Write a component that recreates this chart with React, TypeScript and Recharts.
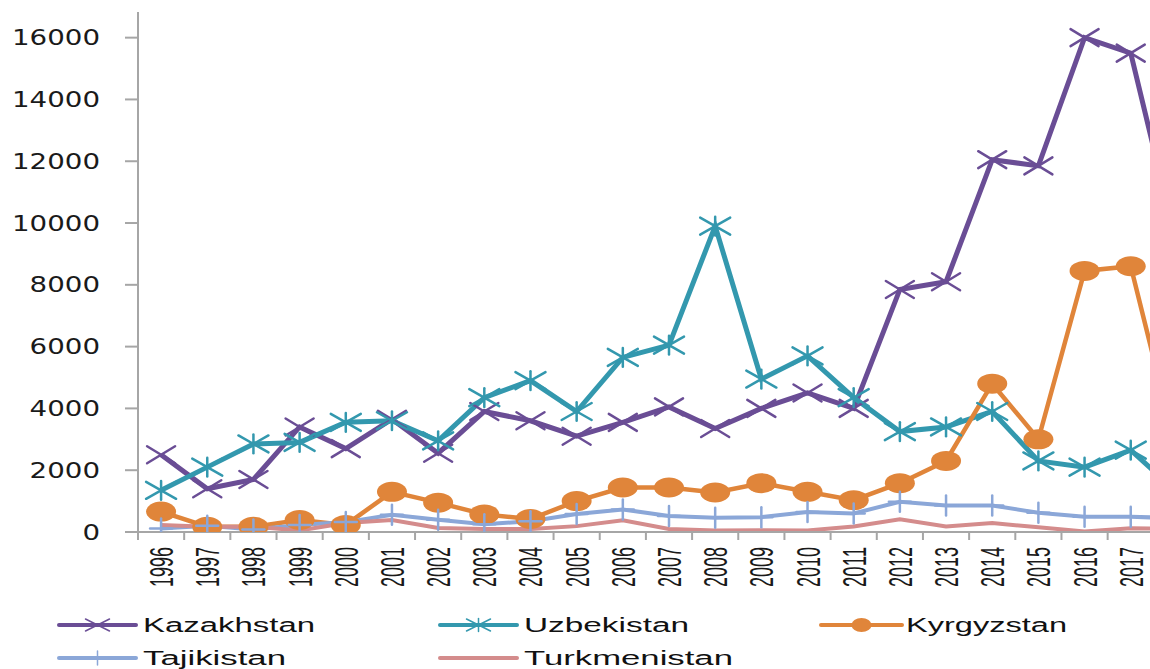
import React from 'react';
import { LineChart, Line, XAxis, YAxis, Legend } from 'recharts';

const years = [
  '1996', '1997', '1998', '1999', '2000', '2001', '2002', '2003', '2004', '2005', '2006', '2007',
  '2008', '2009', '2010', '2011', '2012', '2013', '2014', '2015', '2016', '2017', '2018',
];
const kazakhstan = [2500, 1400, 1700, 3400, 2700, 3650, 2550, 3900, 3600, 3100, 3550, 4050, 3350, 4000, 4500, 4000, 7850, 8100, 12050, 11850, 16000, 15500, 9300];
const uzbekistan = [1350, 2100, 2850, 2900, 3550, 3600, 2950, 4350, 4900, 3900, 5650, 6050, 9900, 4950, 5700, 4350, 3250, 3400, 3900, 2300, 2100, 2650, 1300];
const kyrgyzstan = [660, 170, 170, 390, 230, 1300, 950, 570, 420, 1000, 1440, 1440, 1280, 1580, 1300, 1030, 1580, 2300, 4800, 3000, 8450, 8600, 2600];
const tajikistan = [110, 200, 80, 230, 320, 560, 400, 250, 350, 580, 730, 520, 460, 480, 650, 600, 980, 860, 860, 620, 490, 490, 450];
const turkmenistan = [230, 170, 170, 50, 290, 390, 130, 100, 100, 190, 380, 100, 50, 60, 50, 180, 410, 180, 290, 150, 20, 120, 100];
const yTicks = [0, 2000, 4000, 6000, 8000, 10000, 12000, 14000, 16000];

const data = years.map((year, i) => ({
  year,
  Kazakhstan: kazakhstan[i],
  Uzbekistan: uzbekistan[i],
  Kyrgyzstan: kyrgyzstan[i],
  Tajikistan: tajikistan[i],
  Turkmenistan: turkmenistan[i],
}));

const W = 1210;
const H = 669;
const Y_AXIS_W = 138;
const RIGHT = 10;
const BAND = (W - Y_AXIS_W - RIGHT) / years.length;

const C = {
  kaz: '#6a4d95',
  uzb: '#3398ae',
  kyr: '#e0853a',
  taj: '#8ba7d8',
  tur: '#d48c8c',
  axis: '#a6a6a6',
};

const XMark = ({ cx, cy, rx, ry, color, w }: any) => (
  <g stroke={color} strokeWidth={w} strokeLinecap="round">
    <line x1={cx - rx} y1={cy - ry} x2={cx + rx} y2={cy + ry} />
    <line x1={cx - rx} y1={cy + ry} x2={cx + rx} y2={cy - ry} />
  </g>
);

const StarMark = ({ cx, cy, rx, ry, color, w }: any) => (
  <g stroke={color} strokeWidth={w} strokeLinecap="round">
    <line x1={cx - rx} y1={cy - ry} x2={cx + rx} y2={cy + ry} />
    <line x1={cx - rx} y1={cy + ry} x2={cx + rx} y2={cy - ry} />
    <line x1={cx} y1={cy - ry * 1.1} x2={cx} y2={cy + ry * 1.1} />
  </g>
);

const PlusMark = ({ cx, cy, rx, ry, color, w }: any) => (
  <g stroke={color} strokeWidth={w} strokeLinecap="round">
    <line x1={cx - rx} y1={cy} x2={cx + rx} y2={cy} />
    <line x1={cx} y1={cy - ry} x2={cx} y2={cy + ry} />
  </g>
);

const YTick = ({ x, y, payload }: any) => {
  const s = String(payload.value);
  return (
    <text
      x={x}
      y={y}
      dy={7.5}
      textAnchor="end"
      fontFamily="DejaVu Sans"
      fontSize={21}
      fill="#1a1a1a"
      textLength={s.length * 17.6}
      lengthAdjust="spacingAndGlyphs"
    >
      {s}
    </text>
  );
};

const XTick = ({ x, y, payload }: any) => {
  const ty = y + 15;
  return (
    <g>
      <line x1={x - BAND / 2} y1={y} x2={x - BAND / 2} y2={y + 8} stroke={C.axis} strokeWidth={2} />
      <text
        x={x}
        y={ty}
        dy={12}
        transform={`rotate(-90 ${x} ${ty})`}
        textAnchor="end"
        fontFamily="Liberation Sans Narrow, Liberation Sans"
        fontSize={33}
        fill="#1a1a1a"
        textLength={40}
        lengthAdjust="spacingAndGlyphs"
      >
        {payload.value}
      </text>
    </g>
  );
};

const legendItems = [
  { name: 'Kazakhstan', color: C.kaz, x0: 59, x1: 136, tx: 143, len: 172, row: 36, mark: 'x' },
  { name: 'Uzbekistan', color: C.uzb, x0: 440, x1: 517, tx: 524, len: 165, row: 36, mark: 'star' },
  { name: 'Kyrgyzstan', color: C.kyr, x0: 821, x1: 902, tx: 906, len: 161, row: 36, mark: 'dot' },
  { name: 'Tajikistan', color: C.taj, x0: 59, x1: 136, tx: 143, len: 143, row: 69, mark: 'plus' },
  { name: 'Turkmenistan', color: C.tur, x0: 440, x1: 517, tx: 524, len: 209, row: 69, mark: 'none' },
];

const LegendBox = () => (
  <svg width={1150} height={80} style={{ display: 'block' }}>
    {legendItems.map((it) => {
      const cx = (it.x0 + it.x1) / 2;
      const cy = it.row;
      return (
        <g key={it.name}>
          <line x1={it.x0} y1={cy} x2={it.x1} y2={cy} stroke={it.color} strokeWidth={4} strokeLinecap="round" />
          {it.mark === 'x' && <XMark cx={cx} cy={cy} rx={12} ry={6} color={it.color} w={1.5} />}
          {it.mark === 'star' && <StarMark cx={cx} cy={cy} rx={12} ry={6} color={it.color} w={1.5} />}
          {it.mark === 'plus' && <PlusMark cx={cx} cy={cy} rx={0} ry={7} color={it.color} w={1.5} />}
          {it.mark === 'dot' && <ellipse cx={cx} cy={cy} rx={10} ry={7} fill={it.color} />}
          <text
            x={it.tx}
            y={cy + 7}
            fontFamily="Liberation Sans"
            fontSize={20}
            fill="#111"
            textLength={it.len}
            lengthAdjust="spacingAndGlyphs"
          >
            {it.name}
          </text>
        </g>
      );
    })}
  </svg>
);

export default function App() {
  return (
    <div
      style={{
        position: 'fixed',
        left: 0,
        top: 0,
        width: 1150,
        height: 669,
        overflow: 'hidden',
        background: '#fff',
      }}
    >
      <LineChart width={W} height={H} data={data} margin={{ top: 12, right: RIGHT, bottom: 0, left: 0 }}>
        <XAxis
          dataKey="year"
          height={57}
          interval={0}
          padding={{ left: BAND / 2, right: BAND / 2 }}
          tickSize={0}
          tickMargin={0}
          tickLine={false}
          axisLine={{ stroke: C.axis, strokeWidth: 2 }}
          tick={<XTick />}
        />
        <YAxis
          width={Y_AXIS_W}
          domain={[0, 16830]}
          ticks={yTicks}
          allowDataOverflow
          tickSize={13}
          tickMargin={25}
          tickLine={{ stroke: C.axis, strokeWidth: 2 }}
          axisLine={{ stroke: C.axis, strokeWidth: 2 }}
          tick={<YTick />}
        />
        <Legend
          verticalAlign="bottom"
          wrapperStyle={{ left: 0, width: 1150, height: 80 }}
          content={() => <LegendBox />}
        />
        <Line
          dataKey="Kazakhstan"
          stroke={C.kaz}
          strokeWidth={5}
          isAnimationActive={false}
          dot={(p: any) => <XMark key={p.index} cx={p.cx} cy={p.cy} rx={14} ry={8.5} color={C.kaz} w={2.5} />}
        />
        <Line
          dataKey="Uzbekistan"
          stroke={C.uzb}
          strokeWidth={5}
          isAnimationActive={false}
          dot={(p: any) => <StarMark key={p.index} cx={p.cx} cy={p.cy} rx={15} ry={8.5} color={C.uzb} w={2.5} />}
        />
        <Line
          dataKey="Kyrgyzstan"
          stroke={C.kyr}
          strokeWidth={4.5}
          isAnimationActive={false}
          dot={(p: any) => <ellipse key={p.index} cx={p.cx} cy={p.cy} rx={15} ry={10} fill={C.kyr} />}
        />
        <Line
          dataKey="Tajikistan"
          stroke={C.taj}
          strokeWidth={4}
          isAnimationActive={false}
          dot={(p: any) => <PlusMark key={p.index} cx={p.cx} cy={p.cy} rx={11} ry={10} color={C.taj} w={2.5} />}
        />
        <Line dataKey="Turkmenistan" stroke={C.tur} strokeWidth={4} isAnimationActive={false} dot={false} />
      </LineChart>
    </div>
  );
}
